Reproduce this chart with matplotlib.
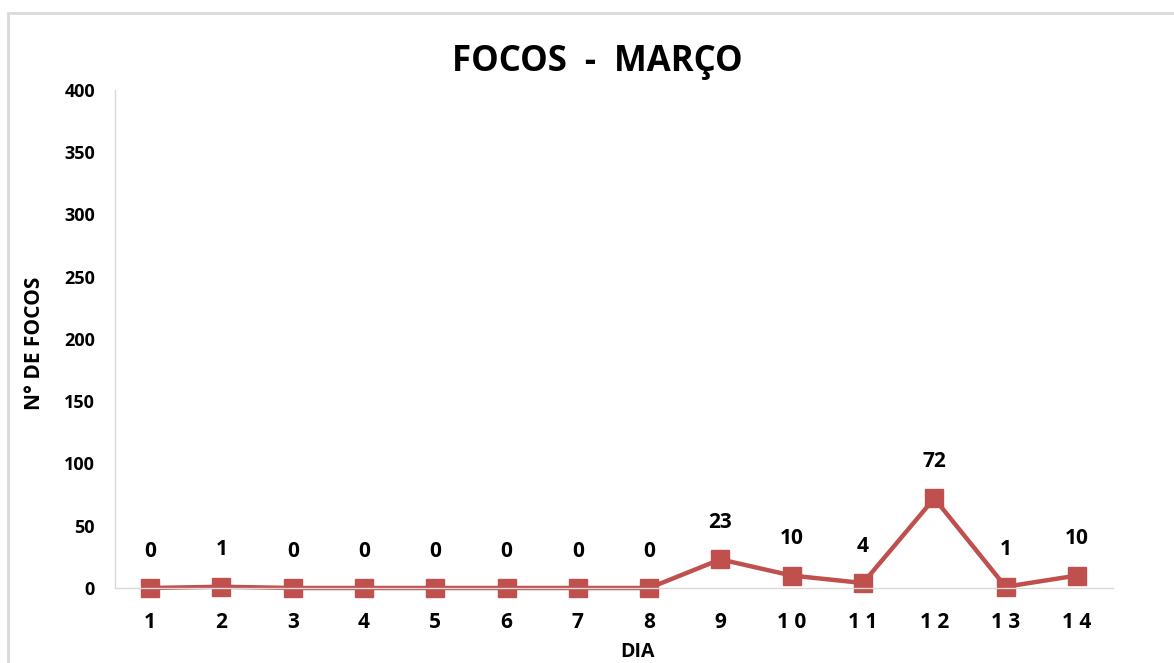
import numpy as np
import matplotlib.pyplot as plt
from matplotlib.patches import Rectangle

# dados do grafico
dias = ["1", "2", "3", "4", "5", "6", "7", "8", "9", "1 0", "1 1", "1 2", "1 3", "1 4"]
focos = [0, 1, 0, 0, 0, 0, 0, 0, 23, 10, 4, 72, 1, 10]
yticks = [0, 50, 100, 150, 200, 250, 300, 350, 400]

plt.rcParams['font.family'] = ['Open Sans', 'DejaVu Sans']

fig = plt.figure(figsize=(11.74, 6.63), dpi=100)
fig.patch.set_facecolor("white")

# moldura cinza do grafico
fig.patches.append(Rectangle((8 / 1174, -0.1), 1.2, 1 - 13 / 663 + 0.1,
                             transform=fig.transFigure, fill=False,
                             edgecolor="#d9d9d9", linewidth=2))

ax = fig.add_axes([114.5 / 1174, 75 / 663, 998 / 1174, 498 / 663])
x = np.arange(1, len(focos) + 1)
ax.plot(x, focos, color="#C0504D", linewidth=3.2, marker="s", markersize=13,
        clip_on=False)

for xi, v in zip(x, focos):
    ax.annotate(str(v), (xi, v), xytext=(0, 19), textcoords="offset points",
                ha="center", va="bottom", fontsize=15, fontweight="bold")

ax.set_xlim(0.5, len(focos) + 0.5)
ax.set_ylim(0, 400)
ax.set_yticks(yticks)
ax.set_xticks(x)
ax.set_xticklabels(dias)
ax.tick_params(axis="both", length=0, labelsize=13)
ax.tick_params(axis="x", pad=17, labelsize=15)
ax.tick_params(axis="y", pad=14)
for lab in ax.get_xticklabels() + ax.get_yticklabels():
    lab.set_fontweight("bold")

for s in ["top", "right"]:
    ax.spines[s].set_visible(False)
for s in ["left", "bottom"]:
    ax.spines[s].set_color("#d9d9d9")
    ax.spines[s].set_linewidth(1)

fig.text(597 / 1174, 1 - 62 / 663, "FOCOS  -  MARÇO", ha="center", va="center",
         fontsize=25, fontweight="bold")
fig.text(637 / 1174, 1 - 652 / 663, "DIA", ha="center", va="center",
         fontsize=14, fontweight="bold")
fig.text(35 / 1174, 1 - 343 / 663, "N° DE FOCOS", ha="center", va="center",
         rotation=90, fontsize=15, fontweight="bold")

fig.savefig("out.png", dpi=100)
